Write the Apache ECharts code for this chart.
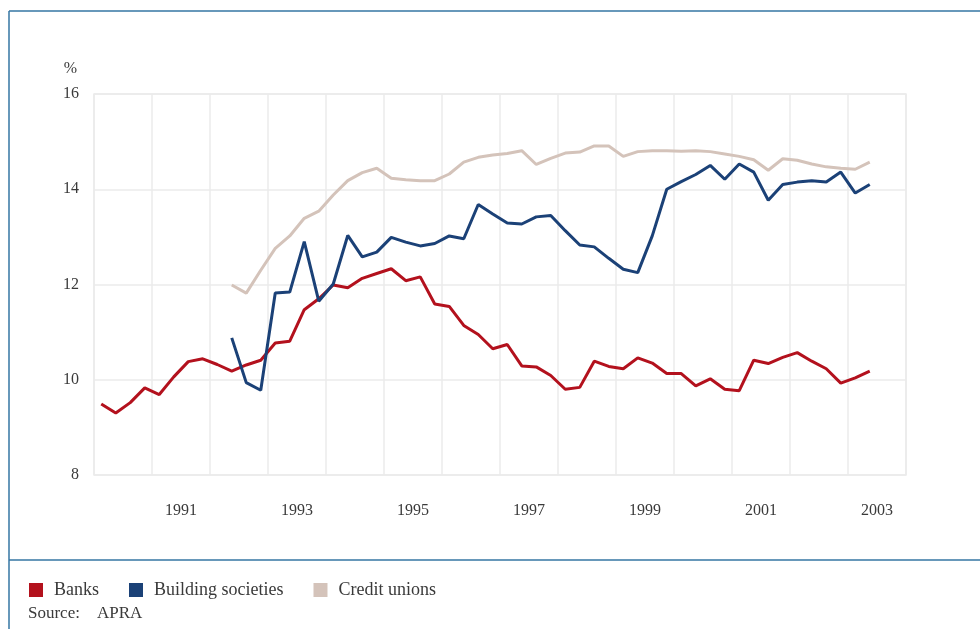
<!DOCTYPE html>
<html>
<head>
<meta charset="utf-8">
<title>Capital ratios</title>
<script src="https://cdn.jsdelivr.net/npm/echarts@6/dist/echarts.min.js"></script>
<style>
  html, body { margin: 0; padding: 0; background: #fff; }
  #chart { width: 980px; height: 629px; }
</style>
</head>
<body>
<div id="chart"></div>
<script>
// Years on the axis, each split into four quarters
const years = [1990, 1991, 1992, 1993, 1994, 1995, 1996, 1997, 1998, 1999, 2000, 2001, 2002, 2003];
const quarters = years.flatMap(y => ['Q1', 'Q2', 'Q3', 'Q4'].map(q => q + ' ' + y));

// Quarterly values, %
const banks = [
  9.49, 9.30, 9.52, 9.83, 9.69, 10.06, 10.38, 10.44, 10.32, 10.18,
  10.31, 10.41, 10.77, 10.81, 11.47, 11.70, 11.99, 11.93, 12.13, 12.23,
  12.33, 12.08, 12.16, 11.59, 11.54, 11.14, 10.95, 10.65, 10.74, 10.29,
  10.27, 10.09, 9.80, 9.84, 10.39, 10.28, 10.23, 10.46, 10.35, 10.13,
  10.13, 9.87, 10.02, 9.80, 9.77, 10.41, 10.34, 10.47, 10.57, 10.39,
  10.23, 9.93, 10.04, 10.18
];
const buildingSocieties = [
  null, null, null, null, null, null, null, null, null, 10.88,
  9.94, 9.78, 11.82, 11.84, 12.90, 11.65, 12.01, 13.03, 12.58, 12.68,
  12.99, 12.89, 12.81, 12.86, 13.02, 12.96, 13.68, 13.48, 13.29, 13.27,
  13.42, 13.45, 13.13, 12.83, 12.79, 12.55, 12.32, 12.25, 13.02, 14.00,
  14.16, 14.31, 14.50, 14.21, 14.53, 14.36, 13.77, 14.10, 14.15, 14.18,
  14.15, 14.36, 13.92, 14.10
];
const creditUnions = [
  null, null, null, null, null, null, null, null, null, 11.99,
  11.82, 12.30, 12.76, 13.02, 13.39, 13.54, 13.88, 14.18, 14.35, 14.44,
  14.23, 14.20, 14.18, 14.18, 14.32, 14.57, 14.67, 14.72, 14.75, 14.81,
  14.52, 14.65, 14.76, 14.78, 14.91, 14.91, 14.69, 14.79, 14.81, 14.81,
  14.80, 14.81, 14.79, 14.74, 14.69, 14.62, 14.40, 14.64, 14.61, 14.53,
  14.47, 14.44, 14.42, 14.57
];
const yTicks = [8, 10, 12, 14, 16];

const font = '"Liberation Serif", "DejaVu Serif", serif';
const textColor = '#3a3a3a';
const gridColor = '#ebebeb';
const frameColor = '#3476a3';

const chart = echarts.init(document.getElementById('chart'));

const line = (name, data, color) => ({
  name: name,
  type: 'line',
  data: data,
  xAxisIndex: 0,
  symbol: 'none',
  connectNulls: false,
  lineStyle: { color: color, width: 3 },
  itemStyle: { color: color }
});

const option = {
  backgroundColor: '#fff',
  animation: false,
  textStyle: { fontFamily: font, color: textColor },
  grid: {
    left: 94, right: 74, top: 94, bottom: 154,
    show: true, borderColor: gridColor, borderWidth: 1.5
  },
  xAxis: [
    {
      type: 'category',
      data: quarters,
      boundaryGap: true,
      axisLine: { show: false },
      axisTick: { show: false },
      axisLabel: { show: false },
      splitLine: { show: true, interval: 3, lineStyle: { color: gridColor, width: 1.5 } }
    },
    {
      type: 'category',
      data: years.map(String),
      boundaryGap: true,
      position: 'bottom',
      axisLine: { show: false },
      axisTick: { show: false },
      splitLine: { show: false },
      axisLabel: {
        interval: (i) => i % 2 === 1,
        margin: 28,
        fontFamily: font,
        fontSize: 16,
        color: textColor
      }
    }
  ],
  yAxis: {
    type: 'value',
    min: yTicks[0],
    max: yTicks[yTicks.length - 1],
    interval: 2,
    name: '%',
    nameLocation: 'end',
    nameGap: 25,
    nameTextStyle: {
      fontFamily: font, fontSize: 16, color: textColor,
      align: 'right', verticalAlign: 'middle', padding: [0, 17, 0, 0]
    },
    axisLine: { show: false },
    axisTick: { show: false },
    axisLabel: { margin: 15, fontFamily: font, fontSize: 16, color: textColor },
    splitLine: { show: true, lineStyle: { color: gridColor, width: 1.5 } }
  },
  legend: {
    left: 29,
    top: 581,
    padding: 0,
    itemWidth: 14,
    itemHeight: 14,
    itemGap: 30,
    icon: 'rect',
    textStyle: { fontFamily: font, fontSize: 18, color: textColor, padding: [0, 0, 0, 6] },
    data: ['Banks', 'Building societies', 'Credit unions']
  },
  graphic: [
    { type: 'line', shape: { x1: 9, y1: 11, x2: 980, y2: 11 }, style: { stroke: frameColor, lineWidth: 1.5 } },
    { type: 'line', shape: { x1: 9, y1: 11, x2: 9, y2: 629 }, style: { stroke: frameColor, lineWidth: 1.5 } },
    { type: 'line', shape: { x1: 9, y1: 560, x2: 980, y2: 560 }, style: { stroke: frameColor, lineWidth: 1.5 } },
    {
      type: 'text', left: 28, top: 605,
      style: { text: 'Source:    APRA', font: '17px ' + font, fill: textColor }
    }
  ],
  series: [
    line('Banks', banks, '#b3111d'),
    line('Building societies', buildingSocieties, '#1b4177'),
    line('Credit unions', creditUnions, '#d4c3ba')
  ]
};

chart.setOption(option);
</script>
</body>
</html>
